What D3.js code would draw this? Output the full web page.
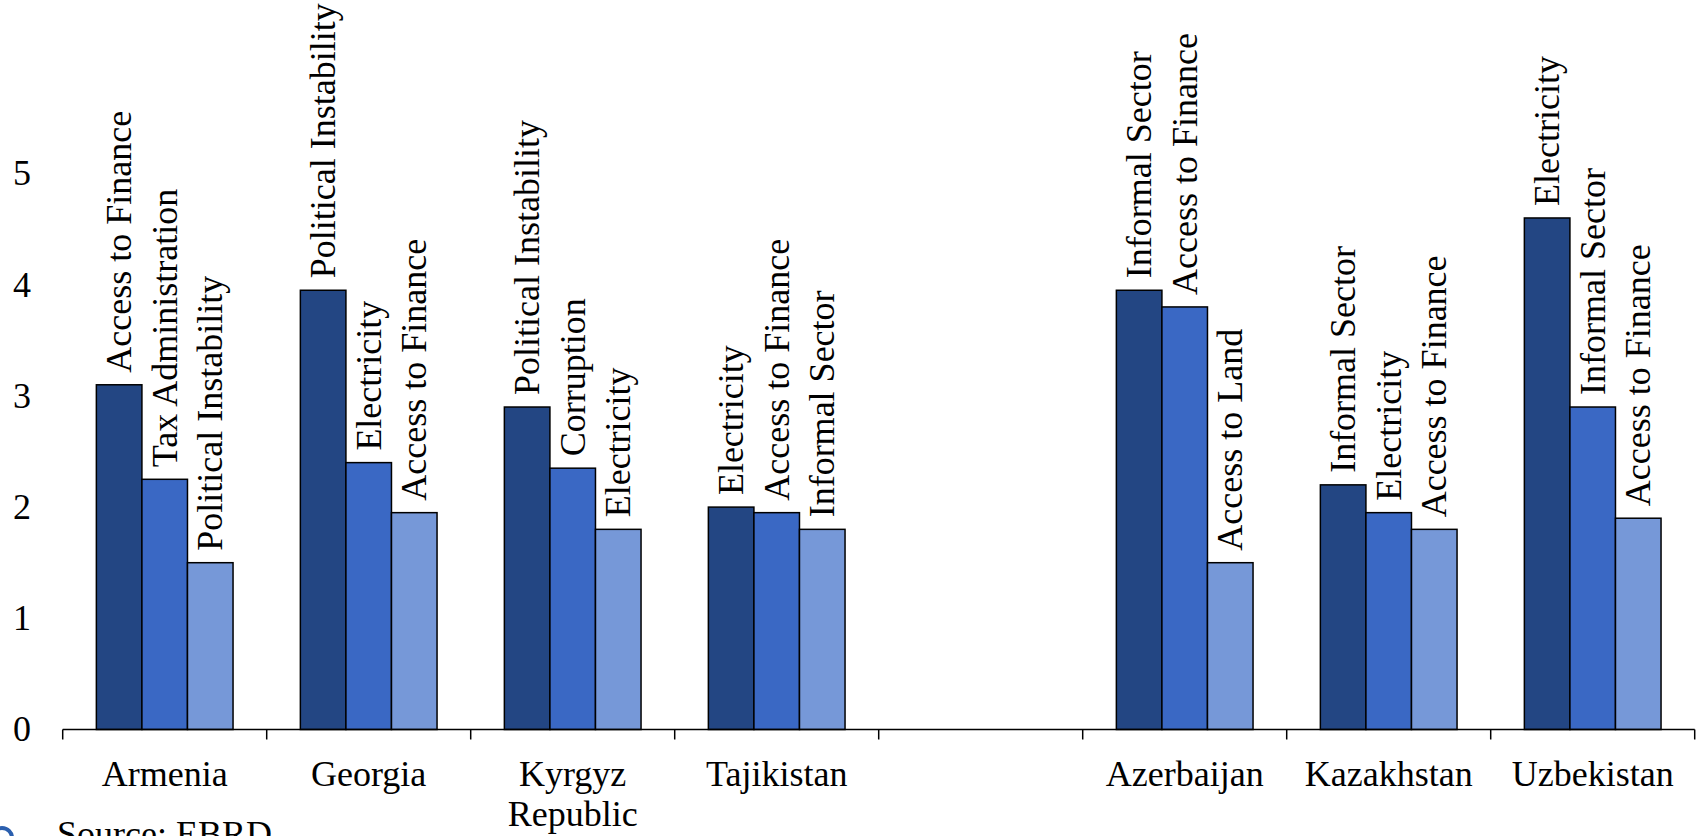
<!DOCTYPE html>
<html>
<head>
<meta charset="utf-8">
<script src="https://cdn.jsdelivr.net/npm/d3@7"></script>
<style>
  html, body { margin: 0; padding: 0; background: #fff; }
  svg { display: block; font-family: "Liberation Serif", "DejaVu Serif", serif; }
</style>
</head>
<body>
<svg id="chart" width="1696" height="836"></svg>
<script>
// Top three business constraints by country (average severity score)
const categories = ["Armenia", "Georgia", "Kyrgyz Republic", "Tajikistan", "", "Azerbaijan", "Kazakhstan", "Uzbekistan"];

const firstValues  = [3.1, 3.95, 2.9, 2.0, null, 3.95, 2.2, 4.6];
const secondValues = [2.25, 2.4, 2.35, 1.95, null, 3.8, 1.95, 2.9];
const thirdValues  = [1.5, 1.95, 1.8, 1.8, null, 1.5, 1.8, 1.9];

const firstLabels  = ["Access to Finance", "Political Instability", "Political Instability", "Electricity", "", "Informal Sector", "Informal Sector", "Electricity"];
const secondLabels = ["Tax Administration", "Electricity", "Corruption", "Access to Finance", "", "Access to Finance", "Electricity", "Informal Sector"];
const thirdLabels  = ["Political Instability", "Access to Finance", "Electricity", "Informal Sector", "", "Access to Land", "Access to Finance", "Access to Finance"];

const yTicks = [0, 1, 2, 3, 4, 5];
const sourceNote = "Source: EBRD";

const seriesColors = ["#234683", "#3a68c4", "#7698d8"];

const svg = d3.select("#chart");
const left = 62.7, right = 1694.7, axisY = 729.5, topY = 62.3;

const x0 = d3.scaleBand().domain(categories.map((c, i) => i)).range([left, right]).paddingInner(0).paddingOuter(0);
const bw = x0.bandwidth();
const x1 = d3.scaleBand().domain([0, 1, 2]).range([bw * 0.165, bw * 0.835]).padding(0);
const y = d3.scaleLinear().domain([0, 6]).range([axisY, topY]);

const values = [firstValues, secondValues, thirdValues];
const labels = [firstLabels, secondLabels, thirdLabels];

const rows = [];
categories.forEach((c, i) => {
  values.forEach((vals, s) => {
    if (vals[i] != null) rows.push({ cat: i, s, v: vals[i], label: labels[s][i] });
  });
});

// Bars
svg.append("g").selectAll("rect").data(rows).join("rect")
  .attr("x", d => x0(d.cat) + x1(d.s))
  .attr("y", d => y(d.v))
  .attr("width", x1.bandwidth())
  .attr("height", d => y(0) - y(d.v))
  .attr("fill", d => seriesColors[d.s])
  .attr("stroke", "#000")
  .attr("stroke-width", 1.5);

// Rotated constraint names above each bar
svg.append("g").selectAll("text").data(rows).join("text")
  .attr("transform", d => `translate(${x0(d.cat) + x1(d.s) + x1.bandwidth() / 2},${y(d.v) - 12}) rotate(-90)`)
  .attr("dy", "0.33em")
  .attr("text-anchor", "start")
  .attr("font-size", 36)
  .attr("fill", "#000")
  .text(d => d.label);

// Category axis
const xAxis = svg.append("g");
xAxis.append("line")
  .attr("x1", left).attr("x2", right)
  .attr("y1", axisY).attr("y2", axisY)
  .attr("stroke", "#000").attr("stroke-width", 1.5);
const boundaries = categories.map((c, i) => x0(i)).concat([right]);
xAxis.selectAll("line.tick").data(boundaries).join("line")
  .attr("class", "tick")
  .attr("x1", d => d).attr("x2", d => d)
  .attr("y1", axisY).attr("y2", axisY + 10)
  .attr("stroke", "#000").attr("stroke-width", 1.5);

const catText = xAxis.selectAll("text").data(categories.map((c, i) => ({ c, i }))).join("text")
  .attr("x", d => x0(d.i) + bw / 2)
  .attr("y", axisY + 56)
  .attr("text-anchor", "middle")
  .attr("font-size", 36)
  .attr("fill", "#000");
catText.each(function(d) {
  const words = d.c === "Kyrgyz Republic" ? ["Kyrgyz", "Republic"] : [d.c];
  d3.select(this).selectAll("tspan").data(words).join("tspan")
    .attr("x", x0(d.i) + bw / 2)
    .attr("dy", (w, k) => k === 0 ? 0 : 40)
    .text(w => w);
});

// Value axis labels (no axis line)
svg.append("g").selectAll("text").data(yTicks).join("text")
  .attr("x", 31)
  .attr("y", d => y(d))
  .attr("dy", "0.33em")
  .attr("text-anchor", "end")
  .attr("font-size", 36)
  .attr("fill", "#000")
  .text(d => d);

// Source note with logo mark
svg.append("circle")
  .attr("cx", 2).attr("cy", 838).attr("r", 10)
  .attr("fill", "none").attr("stroke", "#2b5fae").attr("stroke-width", 4);
svg.append("text")
  .attr("x", 57).attr("y", 846)
  .attr("font-size", 36)
  .attr("fill", "#000")
  .text(sourceNote);
</script>
</body>
</html>
